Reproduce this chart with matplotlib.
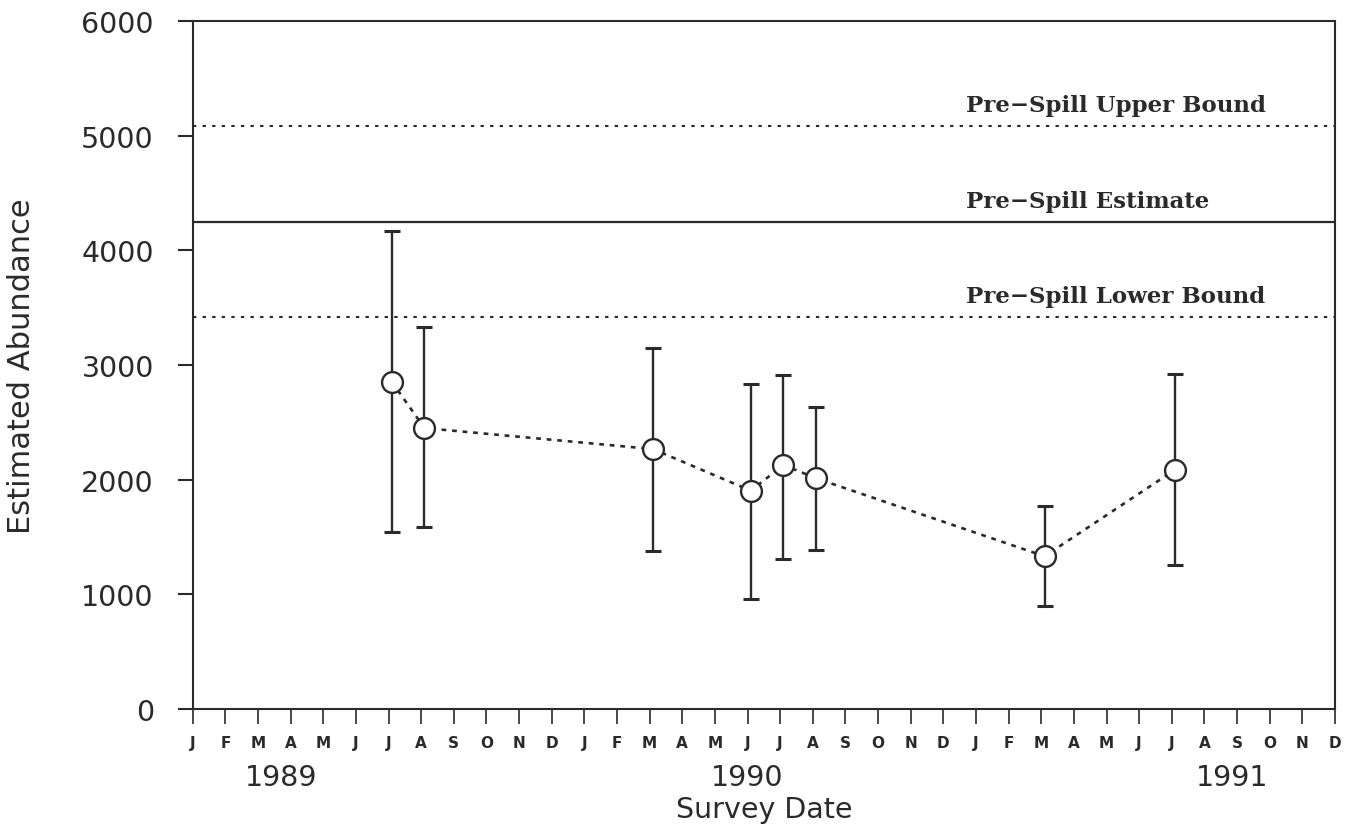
import matplotlib
matplotlib.use("Agg")
import matplotlib.pyplot as plt
import matplotlib.transforms as mtransforms

# survey dates as months after Jan 1989 (0 = Jan 1989)
survey_month = [6.1, 7.1, 14.1, 17.1, 18.1, 19.1, 26.1, 30.1]
abundance = [2854, 2450, 2267, 1904, 2128, 2012, 1332, 2087]
ci_upper = [4171, 3329, 3148, 2834, 2913, 2631, 1773, 2921]
ci_lower = [1546, 1590, 1378, 959, 1308, 1384, 896, 1256]

prespill_upper = 5087
prespill_estimate = 4250
prespill_lower = 3418

month_letters = list("JFMAMJJASOND") * 3
years = ["1989", "1990", "1991"]
year_pos = [2.7, 17.0, 31.85]

ink = "#2a2a2a"

fig = plt.figure(figsize=(13.51, 8.29), dpi=100)
ax = fig.add_axes([192.7 / 1351, 1 - 710 / 829, (1335 - 192.7) / 1351, (710 - 22) / 829])

# pre-spill reference lines
ax.axhline(prespill_upper, color=ink, lw=1.5, dashes=(1.6, 3.0))
ax.axhline(prespill_estimate, color=ink, lw=1.6)
ax.axhline(prespill_lower, color=ink, lw=1.5, dashes=(1.6, 3.0))

ref_font = dict(family="DejaVu Serif", fontsize=16.5, fontweight="bold",
                color=ink, va="baseline", ha="left")
for val, txt in [(prespill_upper, "Pre\u2212Spill Upper Bound"),
                 (prespill_estimate, "Pre\u2212Spill Estimate"),
                 (prespill_lower, "Pre\u2212Spill Lower Bound")]:
    ax.annotate(txt, xy=(23.7, val), xytext=(0, 10.5), textcoords="offset points", **ref_font)

# error bars, connecting line, then open circles on top
yerr = [[a - lo for a, lo in zip(abundance, ci_lower)],
        [hi - a for a, hi in zip(abundance, ci_upper)]]
ax.errorbar(survey_month, abundance, yerr=yerr, fmt="none", ecolor=ink,
            elinewidth=1.7, capsize=6.1, capthick=2.2, zorder=3)
ax.plot(survey_month, abundance, color=ink, lw=1.9, dashes=(1.8, 2.2), zorder=4)
ax.plot(survey_month, abundance, "o", ms=15, mfc="white", mec=ink, mew=1.7, ls="none", zorder=5)

ax.set_xlim(0, 35)
ax.set_ylim(0, 6000)
ax.set_yticks(range(0, 6001, 1000))
ax.set_xticks(range(36))
ax.set_xticklabels(month_letters, fontsize=11, fontweight="bold", color=ink)
ax.tick_params(axis="y", direction="out", length=11, width=1.5, pad=17,
               labelsize=20.5, labelcolor=ink, color=ink)
ax.tick_params(axis="x", direction="out", length=11, width=1.2, pad=8, color=ink)

for side in ax.spines.values():
    side.set_linewidth(1.5)
    side.set_color(ink)

# year labels under the month letters
trans = mtransforms.blended_transform_factory(ax.transData, ax.transAxes)
for pos, yr in zip(year_pos, years):
    ax.text(pos, -0.099, yr, transform=trans, ha="center", va="center",
            fontsize=20.5, color=ink)

ax.text(0.5, -0.145, "Survey Date", transform=ax.transAxes, ha="center",
        va="center", fontsize=20.5, color=ink)
fig.text(22 / 1351, 1 - 366 / 829, "Estimated Abundance", rotation=90,
         ha="center", va="center", fontsize=22, color=ink)

fig.savefig("out.png", dpi=100)
